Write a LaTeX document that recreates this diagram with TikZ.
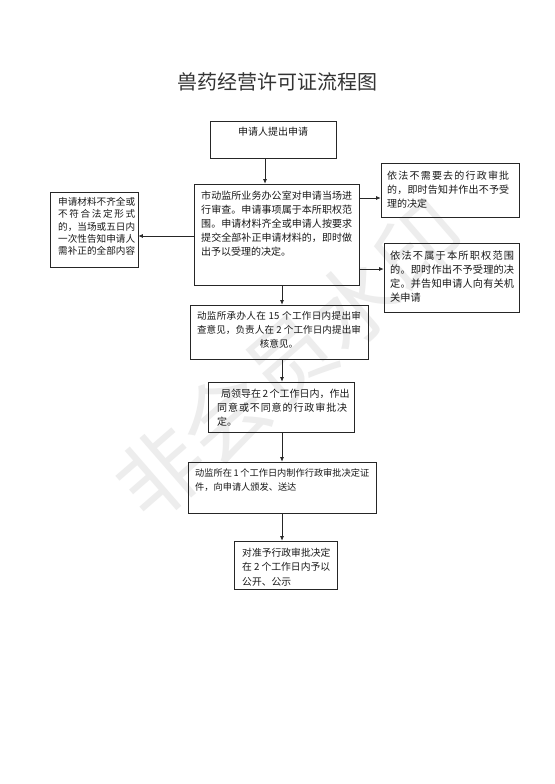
\documentclass[tikz,border=0pt]{standalone}
\usepackage{fontspec}
\setmainfont{Noto Sans CJK SC}
\usetikzlibrary{arrows.meta}
\makeatletter
\def\jlend{\jlend}
\def\jl@first#1{#1\jl@loop}
\def\jl@loop#1{\ifx#1\jlend\else\hskip0pt plus 1fil\relax #1\expandafter\jl@loop\fi}
\newcommand\jl[2]{\hbox to #1{\jl@first#2\jlend}}
\makeatother
\newcommand\xv{15}
\tikzset{
  box/.style={draw=black!85, line width=0.7pt, inner sep=0pt},
  txt/.style={inner sep=0pt, text=black!90, align=left},
  arr/.style={draw=black!85, line width=0.7pt, -{Latex[length=4.5pt,width=4pt]}}
}
\begin{document}
\begin{tikzpicture}[x=1pt,y=-1pt]
\useasboundingbox[fill=white] (0,0) rectangle (554,784);
% watermark
\node[rotate=41, text=black!7, font=\fontsize{86pt}{86pt}\selectfont, inner sep=0pt] (wm) at (290,360) {非会员水印};
% title
\node[txt, text=black!80, font=\fontsize{20pt}{24pt}\selectfont] (title) at (277,82) {兽药经营许可证流程图};
% boxes
\node[box, minimum width=126pt, minimum height=37pt] (b1) at (273,139.5) {};
\node[box, minimum width=165pt, minimum height=101pt] (b2) at (276.5,234.5) {};
\node[box, minimum width=88pt, minimum height=75pt] (bl) at (94,229.5) {};
\node[box, minimum width=138pt, minimum height=54pt] (r1) at (450,190) {};
\node[box, minimum width=135pt, minimum height=69pt] (r2) at (451.5,277.5) {};
\node[box, minimum width=178pt, minimum height=54pt] (b3) at (279,332) {};
\node[box, minimum width=146pt, minimum height=50pt] (b4) at (281,407) {};
\node[box, minimum width=188pt, minimum height=51pt] (b5) at (282,487.5) {};
\node[box, minimum width=103pt, minimum height=48pt] (b6) at (285.5,565) {};
% texts
\node[txt, font=\fontsize{10pt}{14pt}\selectfont] (t1) at (273,132) {申请人提出申请};
\node[txt, anchor=north west, font=\fontsize{10pt}{14pt}\selectfont] (t2) at (201,190.4) {%
\jl{151pt}{市动监所业务办公室对申请当场进}\\
\jl{151pt}{行审查。申请事项属于本所职权范}\\
\jl{151pt}{围。申请材料齐全或申请人按要求}\\
\jl{151pt}{提交全部补正申请材料的，即时做}\\
出予以受理的决定。};
\node[txt, anchor=north west, font=\fontsize{9.6pt}{12.3pt}\selectfont] (tl) at (58,197.3) {%
\jl{77pt}{申请材料不齐全或}\\
\jl{77pt}{不符合法定形式}\\
\jl{77pt}{的，当场或五日内}\\
\jl{77pt}{一次性告知申请人}\\
\jl{77pt}{需补正的全部内容}};
\node[txt, anchor=north west, font=\fontsize{10pt}{13.7pt}\selectfont] (tr1) at (387,171.3) {%
\jl{122pt}{依法不需要去的行政审批}\\
\jl{122pt}{的，即时告知并作出不予受}\\
理的决定};
\node[txt, anchor=north west, font=\fontsize{10.2pt}{14pt}\selectfont] (tr2) at (390,251.2) {%
\jl{124pt}{依法不属于本所职权范围}\\
\jl{124pt}{的。即时作出不予受理的决}\\
\jl{124pt}{定。并告知申请人向有关机}\\
关申请};
\node[txt, align=center, anchor=north, font=\fontsize{9.6pt}{14pt}\selectfont] (t3) at (279,311.4) {%
\jl{164pt}{动监所承办人在~\xv~个工作日内提出审}\\
\jl{164pt}{查意见，负责人在~2~个工作日内提出审}\\
核意见。};
\node[txt, anchor=north west, font=\fontsize{10pt}{14pt}\selectfont] (t4) at (217,388.4) {%
\hspace*{4pt}\jl{125pt}{局领导在~2~个工作日内，作出}\\
\jl{130pt}{同意或不同意的行政审批决}\\
定。};
\node[txt, anchor=north west, font=\fontsize{9.2pt}{14pt}\selectfont] (t5) at (195,468.7) {%
\jl{174pt}{动监所在~1~个工作日内制作行政审批决定证}\\
件，向申请人颁发、送达};
\node[txt, anchor=north west, font=\fontsize{9.8pt}{14.5pt}\selectfont] (t6) at (242,547.5) {%
\jl{88pt}{对准予行政审批决定}\\
\jl{88pt}{在~2~个工作日内予以}\\
公开、公示};
% connector helper coordinates
\coordinate (xa) at (265,0);
\coordinate (xb) at (282,0);
\coordinate (yl) at (0,236);
\coordinate (yr1) at (0,198);
\coordinate (yr2) at (0,269);
% connectors
\draw[arr] (b1.south -| xa) -- (b2.north -| xa);
\draw[arr] (b2.west |- yl) -- (bl.east |- yl);
\draw[arr] (b2.east |- yr1) -- (r1.west |- yr1);
\draw[arr] (b2.east |- yr2) -- (r2.west |- yr2);
\draw[arr] (b2.south -| xb) -- (b3.north -| xb);
\draw[arr] (b3.south -| xb) -- (b4.north -| xb);
\draw[arr] (b4.south -| xb) -- (b5.north -| xb);
\draw[arr] (b5.south -| xb) -- (b6.north -| xb);
\end{tikzpicture}
\end{document}
